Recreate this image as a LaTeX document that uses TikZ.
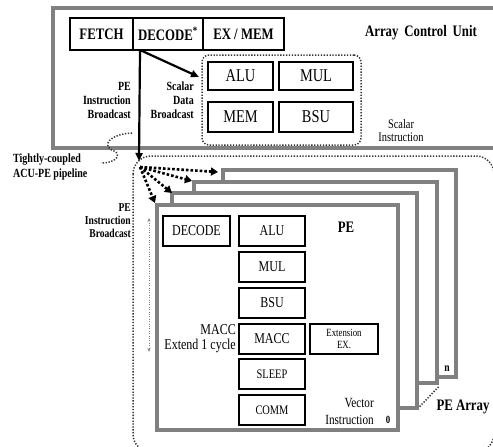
\documentclass[tikz,border=0pt]{standalone}
\usepackage{fontspec}
\setmainfont[FakeStretch=0.8]{Liberation Serif}
\usetikzlibrary{arrows.meta,calc}
\newcommand\myfs[2]{\fontsize{#1}{#2}\selectfont}
\definecolor{frgray}{RGB}{128,128,128}
\begin{document}
\begin{tikzpicture}[x=1pt,y=-1pt,
  gframe/.style={draw=frgray, line width=3.3pt, fill=white, inner sep=0pt, rectangle},
  pbox/.style={draw=black, line width=1.8pt, inner sep=0pt, font=\bfseries\myfs{16}{16}, minimum height=32pt},
  sunit/.style={draw=black, line width=1.8pt, inner sep=0pt, font=\myfs{18}{18}},
  peunit/.style={draw=black, line width=1.8pt, inner sep=0pt, font=\myfs{15}{15}, minimum width=66pt, minimum height=30pt},
  lbl/.style={inner sep=0pt},
  dotbox/.style={draw=black!80, line width=1.5pt, dash pattern=on 1.3pt off 1.6pt, rounded corners=7pt, inner sep=0pt},
  thickarrow/.style={line width=2.2pt, -{Triangle[length=8pt,width=7pt]}},
  fanarrow/.style={line width=2.6pt, dash pattern=on 2.6pt off 2pt, -{Triangle[length=7pt,width=8pt]}},
  thindots/.style={draw=frgray, line width=0.9pt, dash pattern=on 1pt off 1.4pt, {Stealth[length=4pt,width=3pt]}-{Stealth[length=4pt,width=3pt]}}
]
\useasboundingbox (0,0) rectangle (493,447);
\clip (0,0) rectangle (493,447);
\fill[white] (0,0) rectangle (493,447);

% ACU frame
\node[gframe, minimum width=480pt, minimum height=140pt] (acu) at (293,78) {};

% pipeline
\node[pbox, minimum width=63pt] (fetch) at (101.5,34) {FETCH};
\node[pbox, minimum width=70pt] (dec) at (168,34) {DECODE\textsuperscript{*}};
\node[pbox, minimum width=81pt] (exmem) at (243.5,34) {EX / MEM};
\node[lbl, font=\bfseries\myfs{16}{16}] (acut) at (421,33) {Array\, Control\, Unit};

% scalar units
\node[dotbox, minimum width=159pt, minimum height=90pt] (sbox) at (281.5,100) {};
\node[sunit, minimum width=65pt, minimum height=28pt] (salu) at (240.5,76) {ALU};
\node[sunit, minimum width=74pt, minimum height=28pt] (smul) at (316,76) {MUL};
\node[sunit, minimum width=65pt, minimum height=30pt] (smem) at (240.5,117) {MEM};
\node[sunit, minimum width=74pt, minimum height=30pt] (sbsu) at (316,117) {BSU};

\node[lbl, font=\bfseries\myfs{12.5}{14}, align=right, anchor=east] (pib1) at (131,100) {PE\\Instruction\\Broadcast};
\node[lbl, font=\bfseries\myfs{12.5}{14}, align=right, anchor=east] (sdb) at (194,100) {Scalar\\Data\\Broadcast};
\node[lbl, font=\myfs{13}{13}, align=center] (sins) at (401,131) {Scalar\\Instruction};

% big dotted PE region
\draw[dotbox, rounded corners=18pt] (133,156) rectangle (494,452);

% PE frames
\node[gframe, minimum width=233pt, minimum height=207pt] (pe3) at (339.5,273.5) {};
\node[gframe, minimum width=243pt, minimum height=201pt] (pe2) at (315.5,282.5) {};
\node[gframe, minimum width=245pt, minimum height=215pt] (pe1) at (294.5,300.5) {};
\node[gframe, minimum width=241pt, minimum height=225pt] (pe0) at (277.5,317.5) {};
\draw[black!80, line width=1.5pt, dash pattern=on 1.3pt off 1.6pt] ($(pe1.south east)+(1,-3)$) -- ($(pe2.south east)+(0,2)$);

% PE contents
\node[peunit, minimum width=67pt] (pdec) at (196.5,231) {DECODE};
\node[peunit] (palu) at (272,231) {ALU};
\node[peunit] (pmul) at (272,267) {MUL};
\node[peunit] (pbsu) at (272,303) {BSU};
\node[peunit] (pmacc) at (272,339) {MACC};
\node[peunit, font=\myfs{13}{13}] (psleep) at (272,374) {SLEEP};
\node[peunit, font=\myfs{13}{13}] (pcomm) at (272,410) {COMM};
\node[peunit, minimum width=68pt, font=\myfs{11}{12}, align=center] (pext) at (344,339) {Extension\\EX.};
\node[lbl, font=\bfseries\myfs{16}{16}] (pet) at (346,227) {PE};
\node[lbl, font=\myfs{15}{15}, align=right, anchor=east] (macct) at (236,339) {MACC\\Extend 1 cycle};
\node[lbl, font=\myfs{14}{17}, align=right, anchor=east] (vins) at (374,411) {Vector\\Instruction};
\node[lbl, font=\bfseries\myfs{12}{12}] (nlab) at (447,369) {n};
\node[lbl, font=\bfseries\myfs{11}{11}] (zlab) at (388,420) {0};
\node[lbl, font=\bfseries\myfs{16}{16}] (pearr) at (463,407) {PE Array};

% labels left
\node[lbl, font=\bfseries\myfs{12.5}{15}, align=left, anchor=west] (tc) at (13,167) {Tightly-coupled\\ACU-PE pipeline};
\node[lbl, font=\bfseries\myfs{12}{13}, align=right, anchor=east] (pib2) at (131,221) {PE\\Instruction\\Broadcast};

% arrows
\coordinate (brk) at (140,50);
\coordinate (sin) at (199,77);
\coordinate (hub) at (139,161);
\coordinate (fan) at (140,167);
\coordinate (t3) at (218,172);
\coordinate (t2) at (192,181);
\coordinate (t1) at (172,193);
\coordinate (t0) at (155,203);
\draw[thickarrow] (brk) -- (sin);
\draw[thickarrow] (brk) -- (hub);
\draw[fanarrow] (fan) -- (t3);
\draw[fanarrow] (fan) -- (t2);
\draw[fanarrow] (fan) -- (t1);
\draw[fanarrow] (fan) -- (t0);

% thin vertical double arrow
\coordinate (va) at (149,218);
\coordinate (vb) at (149,352);
\draw[thindots] (va) -- (vb);

% S-curve
\draw[black!80, line width=1.5pt, dash pattern=on 1.3pt off 1.6pt] (132,133) .. controls (110,134) and (100,146) .. (114,151) .. controls (122,155) and (116,163) .. (101,163);
\end{tikzpicture}
\end{document}
